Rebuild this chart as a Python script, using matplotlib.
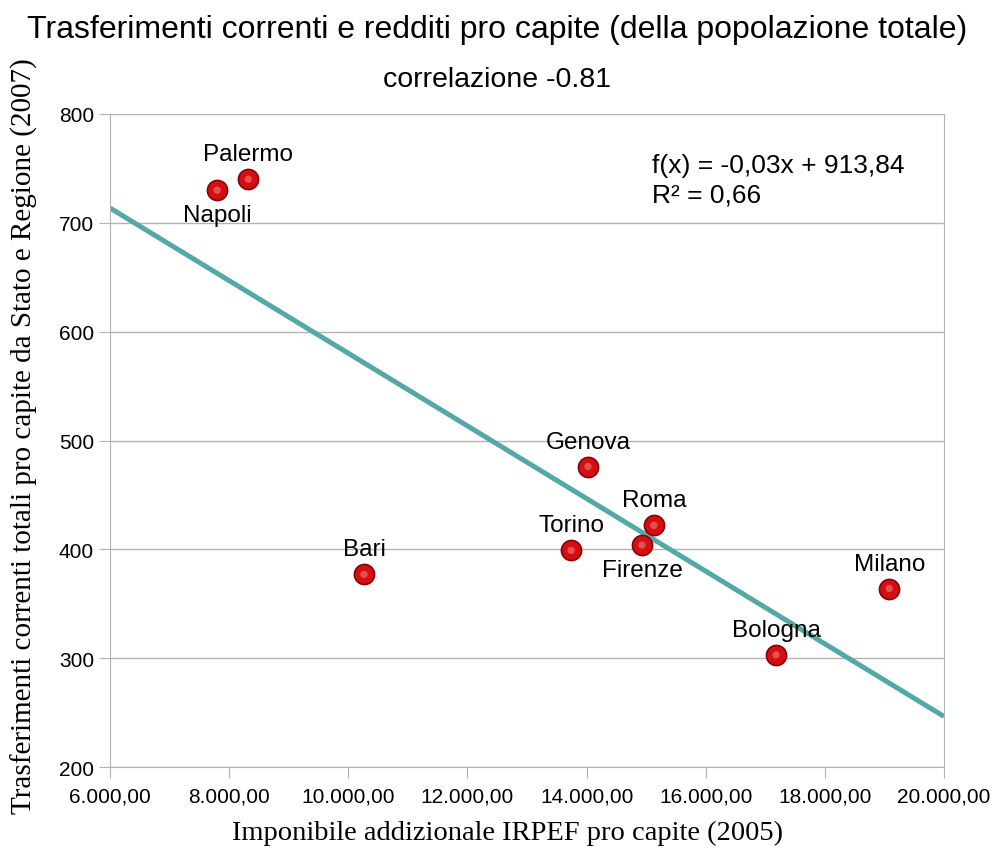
import matplotlib.pyplot as plt
import numpy as np

plt.rcParams['font.family'] = ['Liberation Sans', 'DejaVu Sans']

# dati
citta = ['Palermo', 'Napoli', 'Bari', 'Genova', 'Torino', 'Roma', 'Firenze', 'Bologna', 'Milano']
imponibile = [8320, 7800, 10265, 14025, 13740, 15130, 14930, 17180, 19080]
trasferimenti = [740, 730, 377, 476, 399, 422, 404, 303, 364]
# posizione etichetta: +1 sopra, -1 sotto
posizione = [1, -1, 1, 1, 1, 1, -1, 1, 1]

pendenza = -0.03337
intercetta = 913.84
x_ticks = [6000, 8000, 10000, 12000, 14000, 16000, 18000, 20000]
y_ticks = [200, 300, 400, 500, 600, 700, 800]

W, H = 994, 853
fig = plt.figure(figsize=(W/100, H/100), dpi=100)
ax = fig.add_axes([110/W, 1-768/H, 834/W, 653/H])

ax.set_xlim(6000, 20000)
ax.set_ylim(200, 800)

# retta di tendenza
xl = np.array([6000, 20000])
ax.plot(xl, pendenza*xl + intercetta, color='#55a9a5', linewidth=3.6, zorder=2, solid_capstyle='butt')

ax.scatter(imponibile, trasferimenti, s=210, color='#d40f14', edgecolors='#8a0008', linewidths=1.2, zorder=3)
ax.scatter(imponibile, trasferimenti, s=28, color='#f06a6a', edgecolors='none', zorder=4, alpha=0.7)

for nome, xv, yv, p in zip(citta, imponibile, trasferimenti, posizione):
    ax.annotate(nome, (xv, yv), xytext=(0, 25*p), textcoords='offset pixels',
                ha='center', va='center', fontsize=17.5, color='black', zorder=5)

fig.text(652/W, 1-166/H, 'f(x) = -0,03x + 913,84', fontsize=19, va='center', ha='left')
fig.text(652/W, 1-195/H, 'R² = 0,66', fontsize=19, va='center', ha='left')

ax.set_xticks(x_ticks)
ax.set_xticklabels([f'{v:,.2f}'.replace(',', 'X').replace('.', ',').replace('X', '.') for v in x_ticks])
ax.set_yticks(y_ticks)
ax.tick_params(axis='both', direction='out', length=8, color='#b3b3b3', labelsize=15)
ax.tick_params(axis='x', pad=6)
ax.grid(axis='y', color='#b3b3b3', linewidth=1)
ax.set_axisbelow(True)
for s in ax.spines.values():
    s.set_color('#b3b3b3')

ax.set_xlabel('Imponibile addizionale IRPEF pro capite (2005)', family='Liberation Serif', fontsize=20.5)
ax.set_ylabel('Trasferimenti correnti totali pro capite da Stato e Regione (2007)', family='Liberation Serif', fontsize=21)
ax.xaxis.set_label_coords((508-110)/834, (768-833)/653)
ax.yaxis.set_label_coords((24-110)/834, (768-436)/653)
ax.xaxis.label.set_va('center')
ax.yaxis.label.set_va('center')

fig.text(0.5, 1-30/H, 'Trasferimenti correnti e redditi pro capite (della popolazione totale)', ha='center', va='center', fontsize=23)
fig.text(0.5, 1-80/H, 'correlazione -0.81', ha='center', va='center', fontsize=20.5)

plt.savefig('out.png', dpi=100)
